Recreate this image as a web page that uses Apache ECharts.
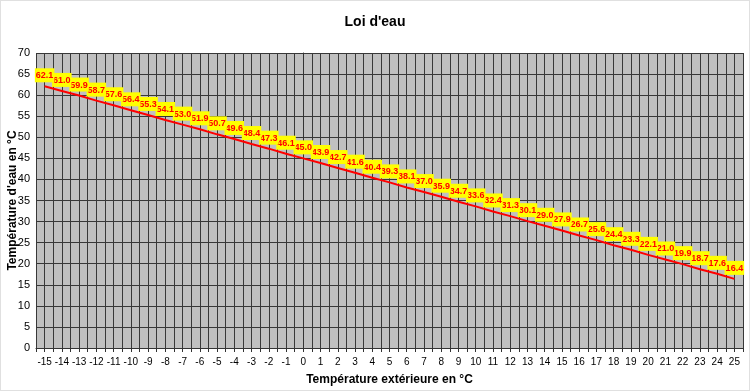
<!DOCTYPE html>
<html>
<head>
<meta charset="utf-8">
<script src="https://cdn.jsdelivr.net/npm/echarts@6/dist/echarts.min.js"></script>
<style>
html,body{margin:0;padding:0;background:#fff;}
#c{width:750px;height:391px;box-sizing:border-box;border:1px solid #e0e0e0;}
</style>
</head>
<body>
<div id="c"></div>
<script>
var titleText = "Loi d'eau";
var xTitle = "Température extérieure en °C";
var yTitle = "Température d'eau en °C";
var outdoorTemps = [-15,-14,-13,-12,-11,-10,-9,-8,-7,-6,-5,-4,-3,-2,-1,0,1,2,3,4,5,6,7,8,9,10,11,12,13,14,15,16,17,18,19,20,21,22,23,24,25];
var waterTemps = [62.1,61.0,59.9,58.7,57.6,56.4,55.3,54.1,53.0,51.9,50.7,49.6,48.4,47.3,46.1,45.0,43.9,42.7,41.6,40.4,39.3,38.1,37.0,35.9,34.7,33.6,32.4,31.3,30.1,29.0,27.9,26.7,25.6,24.4,23.3,22.1,21.0,19.9,18.7,17.6,16.4];
var yTicks = {min:0, max:70, step:5};

// drawn from right to left so that the left-hand labels sit on top, as in the original
var seriesData = outdoorTemps.map(function(x,i){return [x, waterTemps[i]];}).reverse();
var chart = echarts.init(document.getElementById('c'), null, {renderer:'canvas'});
var font = 'Arial, "Liberation Sans", sans-serif';
chart.setOption({
  animation:false,
  backgroundColor:'transparent',
  title:{text:titleText,left:'center',top:9,
    textStyle:{fontFamily:font,fontSize:14,fontWeight:'bold',color:'#000'}},
  grid:{left:35,right:6,top:52,bottom:42,containLabel:false,outerBoundsMode:'none',
    show:true,backgroundColor:'#c0c0c0',borderWidth:0},
  xAxis:{type:'value',min:outdoorTemps[0]-0.5,max:outdoorTemps[outdoorTemps.length-1]+0.5,interval:0.5,
    name:xTitle,nameLocation:'middle',nameGap:26,nameMoveOverlap:false,
    nameTextStyle:{fontFamily:font,fontSize:12,fontWeight:'bold',color:'#000'},
    axisLine:{show:true,onZero:false,lineStyle:{color:'#333',width:1}},
    axisTick:{show:true,length:4,lineStyle:{color:'#333'}},
    splitLine:{show:true,lineStyle:{color:'#383838',width:1}},
    axisLabel:{fontFamily:font,fontSize:10,color:'#000',margin:9,showMinLabel:true,showMaxLabel:true,
      formatter:function(v){return Math.abs(v-Math.round(v))<1e-6 ? String(Math.round(v)) : '';}}
  },
  yAxis:{type:'value',min:yTicks.min,max:yTicks.max,interval:yTicks.step,
    name:yTitle,nameLocation:'middle',nameGap:17,nameMoveOverlap:false,
    nameTextStyle:{fontFamily:font,fontSize:12,fontWeight:'bold',color:'#000'},
    axisLine:{show:true,lineStyle:{color:'#333',width:1}},
    axisTick:{show:true,length:4,lineStyle:{color:'#333'}},
    splitLine:{show:true,lineStyle:{color:'#383838',width:1}},
    axisLabel:{fontFamily:font,fontSize:11,color:'#000',margin:6}
  },
  series:[{
    type:'line',data:seriesData,showSymbol:true,showAllSymbol:true,symbol:'circle',symbolSize:0,
    itemStyle:{color:'#ff0000'},
    lineStyle:{color:'#ff0000',width:2},
    label:{show:true,position:'top',distance:4,
      formatter:function(p){return p.value[1].toFixed(1);},
      fontFamily:font,fontSize:9,fontWeight:'bold',color:'#ff0000',
      backgroundColor:'#ffff00',padding:[3,1,2,1]},
    labelLayout:{hideOverlap:false}
  }]
});
</script>
</body>
</html>
